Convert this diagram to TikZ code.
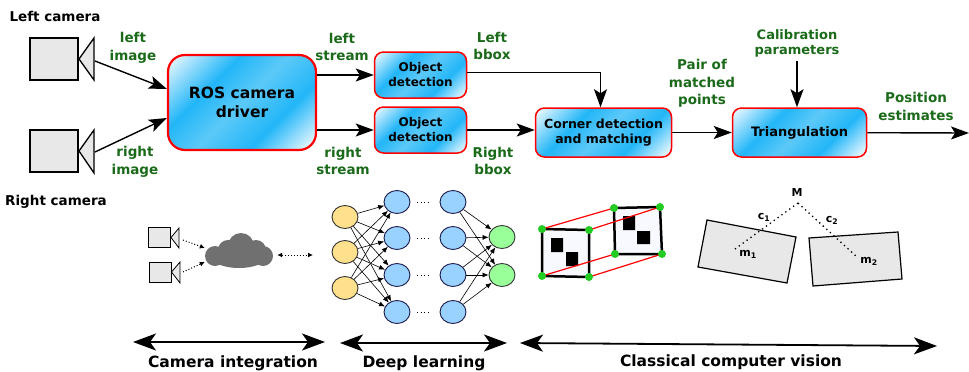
\documentclass[tikz,border=0pt]{standalone}
\usepackage{fontspec}
\setmainfont{DejaVu Sans}
\usetikzlibrary{arrows.meta,shapes.geometric}

\definecolor{lblgreen}{HTML}{1A6A1A}
\definecolor{boxblue}{HTML}{22B6F8}
\definecolor{boxmid}{HTML}{5CC9F8}
\definecolor{boxlight}{HTML}{EAF8FF}
\definecolor{camgray}{HTML}{E8E8E8}
\definecolor{inyellow}{HTML}{FFE08C}
\definecolor{hidblue}{HTML}{99D1FF}
\definecolor{hidedge}{HTML}{1A1A4A}
\definecolor{outgreen}{HTML}{99FF99}
\definecolor{cloudgray}{HTML}{707070}
\definecolor{padfill}{HTML}{F8F8FF}
\definecolor{cornergreen}{HTML}{22CC22}

% light corners, wide blue band across the middle
\pgfdeclareverticalshading{glossy}{100bp}{color(0bp)=(boxlight); color(17bp)=(boxlight);
  color(34bp)=(boxblue); color(50bp)=(boxmid); color(64bp)=(boxblue); color(84bp)=(boxlight); color(100bp)=(boxlight)}

\tikzset{
  block/.style={draw=red, line width=1.5pt, rounded corners=9pt,
    shading=glossy, shading angle=45, align=center, inner sep=0pt},
  flow/.style={-{Stealth[length=18pt,width=13pt,inset=4pt]}, line width=1.4pt},
  lbl/.style={text=lblgreen, align=center, font=\fontsize{13.5}{17.5}\selectfont\bfseries},
  title/.style={font=\fontsize{13.5}{16}\selectfont\bfseries},
  cam/.style={draw, fill=camgray, line width=2pt, inner sep=0pt},
  span/.style={{Stealth[length=23pt,width=17pt,inset=6pt]}-{Stealth[length=23pt,width=17pt,inset=6pt]}, line width=1.8pt},
  neuron/.style={ellipse, draw, line width=0.9pt, minimum width=26pt, minimum height=23pt, inner sep=0pt},
  syn/.style={-{Latex[length=6pt,width=5pt]}, line width=0.6pt},
  dotarrow/.style={-{Latex[length=5pt,width=5pt]}, line width=1pt, dash pattern=on 1pt off 2pt},
  ray/.style={line width=1.3pt, dash pattern=on 1.3pt off 3.5pt},
  viewlbl/.style={font=\fontsize{11}{13}\selectfont\bfseries, inner sep=1pt},
}

\begin{document}
\begin{tikzpicture}[x=1pt, y=-1pt]
  \useasboundingbox (0,0) rectangle (969,372);

  % stereo cameras
  \node[cam, minimum width=48pt, minimum height=42pt] (lcam) at (54,59) {};
  \draw[fill=camgray, line width=1.3pt] (lcam.east) -- (94,38) -- (94,80) -- cycle;
  \node[cam, minimum width=48pt, minimum height=42pt] (rcam) at (54,151) {};
  \draw[fill=camgray, line width=1.3pt] (rcam.east) -- (94,130) -- (94,173) -- cycle;
  \coordinate (llens) at (95,61);
  \coordinate (rlens) at (95,152);
  \node[title, anchor=base] (lcamtxt) at (55,21) {Left camera};
  \node[title, anchor=base] (rcamtxt) at (56,205) {Right camera};

  % processing chain
  \node[block, minimum width=148pt, minimum height=95pt, rounded corners=17pt, line width=2.2pt,
    font=\fontsize{15.5}{19.5}\selectfont\bfseries] (ros) at (242,102.5) {ROS camera\\driver};
  \node[block, minimum width=92pt, minimum height=46pt,
    font=\fontsize{12}{15}\selectfont\bfseries] (odl) at (420.5,75) {Object\\detection};
  \node[block, minimum width=92pt, minimum height=46pt,
    font=\fontsize{12}{15}\selectfont\bfseries] (odr) at (420.5,130) {Object\\detection};
  \node[block, minimum width=136pt, minimum height=49pt,
    font=\fontsize{12.5}{15.5}\selectfont\bfseries] (match) at (603.5,132.5) {Corner detection\\and matching};
  \node[block, minimum width=134pt, minimum height=49pt,
    font=\fontsize{13}{15.5}\selectfont\bfseries] (tri) at (799.5,132.5) {Triangulation};

  % data labels
  \node[lbl] (limg) at (133,48) {left\\image};
  \node[lbl] (rimg) at (135,162) {right\\image};
  \node[lbl] (lstr) at (342,47) {left\\stream};
  \node[lbl] (rstr) at (343,161) {right\\stream};
  \node[lbl] (lbb) at (492,46) {Left\\bbox};
  \node[lbl] (rbb) at (493,161) {Right\\bbox};
  \node[lbl] (pairs) at (702,83.5) {Pair of\\matched\\points};
  \node[lbl, font=\fontsize{13}{15.5}\selectfont\bfseries] (calib) at (797,43.5) {Calibration\\parameters};
  \node[lbl] (pos) at (916,106.5) {Position\\estimates};
  \coordinate (out) at (969,133);

  \draw[flow] (llens) -- ([yshift=13.5pt]ros.west);
  \draw[flow] (rlens) -- ([yshift=-15.5pt]ros.west);
  \draw[flow] (ros.east |- odl) -- (odl);
  \draw[flow] (ros.east |- odr) -- (odr);
  \draw[flow] ([yshift=2.5pt]odl.east) -| ([xshift=-3pt]match.north);
  \draw[flow] (odr.east) -- (odr.east -| match.west);
  \draw[flow] (match) -- (tri);
  \draw[flow] (calib.south) -- (calib.south |- tri.north);
  \draw[flow] (tri) -- (out);

  % camera integration sketch
  \node[cam, line width=1pt, minimum width=22pt, minimum height=20pt] (sc1) at (159.5,237.5) {};
  \draw[fill=camgray, line width=0.8pt] (sc1.east) -- (179,228) -- (179,248) -- cycle;
  \node[cam, line width=1pt, minimum width=22pt, minimum height=20pt] (sc2) at (160,272) {};
  \draw[fill=camgray, line width=0.8pt] (sc2.east) -- (180,262) -- (180,283) -- cycle;
  \node[minimum width=68pt, minimum height=34pt, inner sep=0pt] (cloud) at (239,251) {};
  \fill[cloudgray] (215,256) circle (10pt) (228,250) circle (10pt) (241,246) circle (13pt)
    (256,250) circle (10pt) (263,256) circle (10pt) (239,258) ellipse (26pt and 10pt);
  \coordinate (sl1) at (183,240);
  \coordinate (sl2) at (183,272);
  \coordinate (net) at (313,255);
  \draw[dotarrow] (sl1) -- ([yshift=3pt]cloud.west);
  \draw[dotarrow] (sl2) -- ([yshift=-11pt]cloud.west);
  \draw[dotarrow, {Latex[length=5pt,width=5pt]}-{Latex[length=5pt,width=5pt]}] ([xshift=4pt,yshift=-4pt]cloud.east) -- (net);

  % neural network
  \foreach \y [count=\i] in {217,252,288}
    \node[neuron, fill=inyellow, draw=black!80] (i\i) at (345,\y) {};
  \foreach \y [count=\i] in {202,238,275,312} {
    \node[neuron, fill=hidblue, draw=hidedge] (h\i) at (397,\y) {};
    \node[neuron, fill=hidblue, draw=hidedge] (g\i) at (453,\y) {};
    \draw[line width=1pt, dash pattern=on 1pt off 2.5pt] ([xshift=7pt]h\i.east) -- ([xshift=-9pt]g\i.west);
  }
  \foreach \y [count=\i] in {237,275}
    \node[neuron, fill=outgreen, draw=black!80] (o\i) at (502,\y) {};
  \foreach \a in {1,2,3}
    \foreach \b in {1,...,4}
      \draw[syn] (i\a) -- (h\b);
  \foreach \a in {1,...,4}
    \foreach \b in {1,2}
      \draw[syn] (g\a) -- (o\b);

  % matched corner patterns
  \draw[fill=padfill, line width=2.5pt] (542,229) -- (589,230) -- (589,277) -- (542,276) -- cycle;
  \fill (551,238) rectangle (563,252) (566,252) rectangle (578,266);
  \draw[fill=padfill, line width=2.5pt] (614,208) -- (660,207) -- (662,254) -- (615,254) -- cycle;
  \fill (623,216) rectangle (635,230) (637,231) rectangle (650,244);
  \draw[red, line width=1.2pt] (542,229) -- (614,208) (589,230) -- (660,207)
    (542,276) -- (615,254) (589,277) -- (662,254);
  \foreach \p in {(542,229),(589,230),(589,277),(542,276),(614,208),(660,207),(662,254),(615,254)}
    \fill[cornergreen] \p circle (4pt);

  % two views of point M
  \draw[fill=camgray, line width=1.2pt] (707,220) -- (796,237) -- (787,283) -- (698,267) -- cycle;
  \draw[fill=camgray, line width=1.2pt] (809,238) -- (898,232) -- (902,279) -- (813,286) -- cycle;
  \coordinate (M) at (798,203);
  \coordinate (m1) at (735,249);
  \coordinate (m2) at (857,257);
  \draw[ray] (M) -- (m1);
  \draw[ray] (M) -- (m2);
  \node[viewlbl] (Mtxt) at (797,192) {M};
  \node[viewlbl] (c1txt) at (764,217) {c\textsubscript{1}};
  \node[viewlbl] (c2txt) at (832,220) {c\textsubscript{2}};
  \node[viewlbl] (m1txt) at (748,254) {m\textsubscript{1}};
  \node[viewlbl] (m2txt) at (869,261) {m\textsubscript{2}};

  % stage spans
  \coordinate (ca) at (133,342); \coordinate (cb) at (325,342);
  \coordinate (da) at (340,343); \coordinate (db) at (507,343);
  \coordinate (va) at (520,343); \coordinate (vb) at (937,346);
  \draw[span] (ca) -- (cb);
  \draw[span] (da) -- (db);
  \draw[span] (va) -- (vb);
  \node[title, font=\fontsize{15.5}{18}\selectfont\bfseries] (camint) at (233,363) {Camera integration};
  \node[title, font=\fontsize{15.5}{18}\selectfont\bfseries] (deep) at (424,363) {Deep learning};
  \node[title, font=\fontsize{15.5}{18}\selectfont\bfseries] (classic) at (731,362) {Classical computer vision};
\end{tikzpicture}
\end{document}
